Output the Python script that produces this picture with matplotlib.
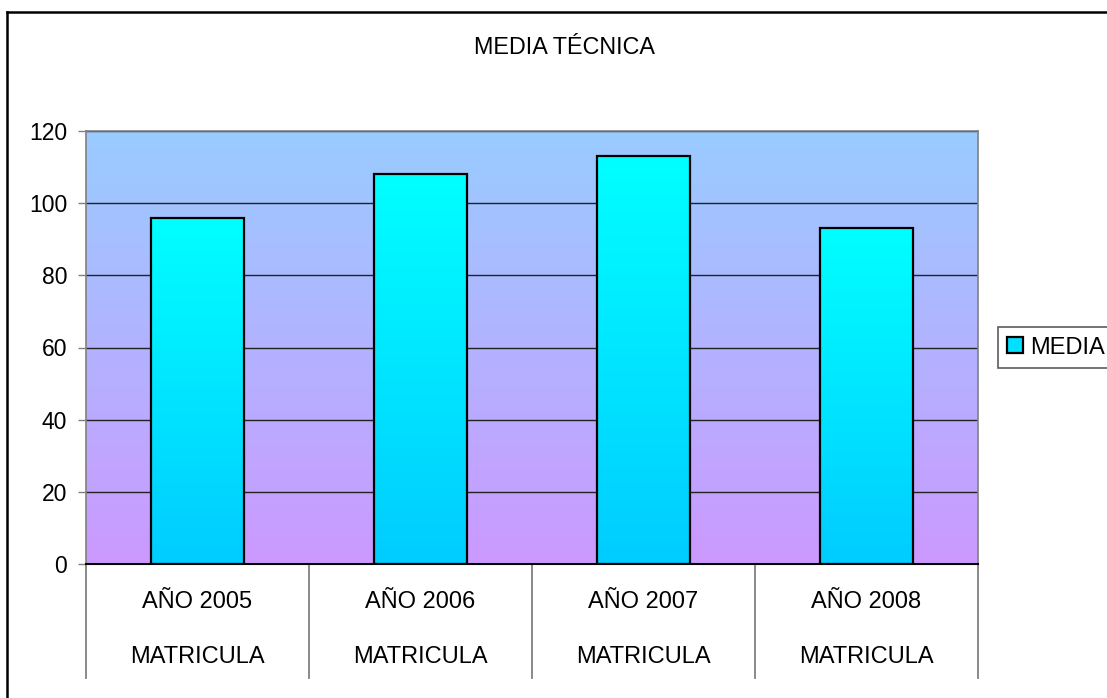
import matplotlib
matplotlib.use("Agg")
import matplotlib.pyplot as plt
import numpy as np
from matplotlib.colors import LinearSegmentedColormap
from matplotlib.patches import Patch
from matplotlib.lines import Line2D
import matplotlib.transforms as mtransforms

plt.rcParams['font.family'] = ['Liberation Sans', 'DejaVu Sans']

# ---- data ----
title = "MEDIA TÉCNICA"
categories = ["AÑO 2005", "AÑO 2006", "AÑO 2007", "AÑO 2008"]
group_label = "MATRICULA"
series_name = "MEDIA"
values = [96, 108, 113, 93]
yticks = [0, 20, 40, 60, 80, 100, 120]

W, H = 1107, 698
fig = plt.figure(figsize=(W / 100, H / 100), dpi=100)
fig.patch.set_facecolor("white")

L, R, T, B = 86, 978, 131, 564
ax = fig.add_axes([L / W, 1 - B / H, (R - L) / W, (B - T) / H])

# background gradient (top light blue -> bottom violet)
bg = LinearSegmentedColormap.from_list("bg", ["#CC99FF", "#99CCFF"])
grad = np.linspace(0, 1, 256).reshape(-1, 1)
ax.imshow(grad, cmap=bg, origin="lower", extent=[0, 1, 0, 1], aspect="auto",
          transform=ax.transAxes, zorder=0)

x = np.arange(len(categories))
bars = ax.bar(x, values, width=0.413, facecolor="none", edgecolor="black",
              linewidth=1.6, zorder=3)

barcm = LinearSegmentedColormap.from_list("bar", ["#00CCFF", "#00FFFF"])
for b in bars:
    x0, w, h = b.get_x(), b.get_width(), b.get_height()
    im = ax.imshow(grad, cmap=barcm, origin="lower", extent=[x0, x0 + w, 0, h],
                   aspect="auto", zorder=2)
    im.set_clip_path(b)

ax.set_xlim(-0.5, len(categories) - 0.5)
ax.set_ylim(0, 120)
ax.set_yticks(yticks)
ax.set_yticklabels([str(t) for t in yticks], fontsize=16.5)
ax.tick_params(axis="y", length=5.8, width=1, color="#808080", pad=7.7)
ax.set_xticks([])

ax.set_axisbelow(True)
ax.yaxis.grid(True, color="#222222", linewidth=1.0)

for s in ["top", "right", "left"]:
    ax.spines[s].set_color("#808080")
    ax.spines[s].set_linewidth(1.2)
ax.spines["bottom"].set_color("black")
ax.spines["bottom"].set_linewidth(1.5)
ax.spines["bottom"].set_zorder(4)

# category axis separators and two-level labels
trans = mtransforms.blended_transform_factory(ax.transData, ax.transAxes)
sep_bottom = -(678 - B) / (B - T)
for xb in np.arange(-0.5, len(categories), 1.0):
    ax.plot([xb, xb], [0, sep_bottom], transform=trans, color="#808080",
            linewidth=1.3, clip_on=False)
for i, c in enumerate(categories):
    ax.text(i, -(602 - B) / (B - T), c, transform=trans, ha="center",
            va="center", fontsize=17)
    ax.text(i, -(657 - B) / (B - T), group_label, transform=trans, ha="center",
            va="center", fontsize=17)

# title
fig.text(564 / W, 1 - 48 / H, title, ha="center", va="center", fontsize=16.8)

# legend
handle = Patch(facecolor="#00E0FF", edgecolor="black", linewidth=1.6)
leg = fig.legend([handle], [series_name], loc="center left",
                 bbox_to_anchor=(998 / W, 1 - 347.5 / H), fontsize=17,
                 frameon=True, fancybox=False, borderpad=0.4,
                 handlelength=0.65, handleheight=0.65, handletextpad=0.3,
                 borderaxespad=0)
leg.get_frame().set_edgecolor("#333333")
leg.get_frame().set_linewidth(1.2)

# outer chart frame (top and left visible)
fig.add_artist(Line2D([7 / W, 7 / W], [0, 1 - 12 / H], color="black",
                      linewidth=1.8, transform=fig.transFigure))
fig.add_artist(Line2D([7 / W, 1], [1 - 12 / H, 1 - 12 / H], color="black",
                      linewidth=1.8, transform=fig.transFigure))

fig.savefig("out.png", dpi=100)
